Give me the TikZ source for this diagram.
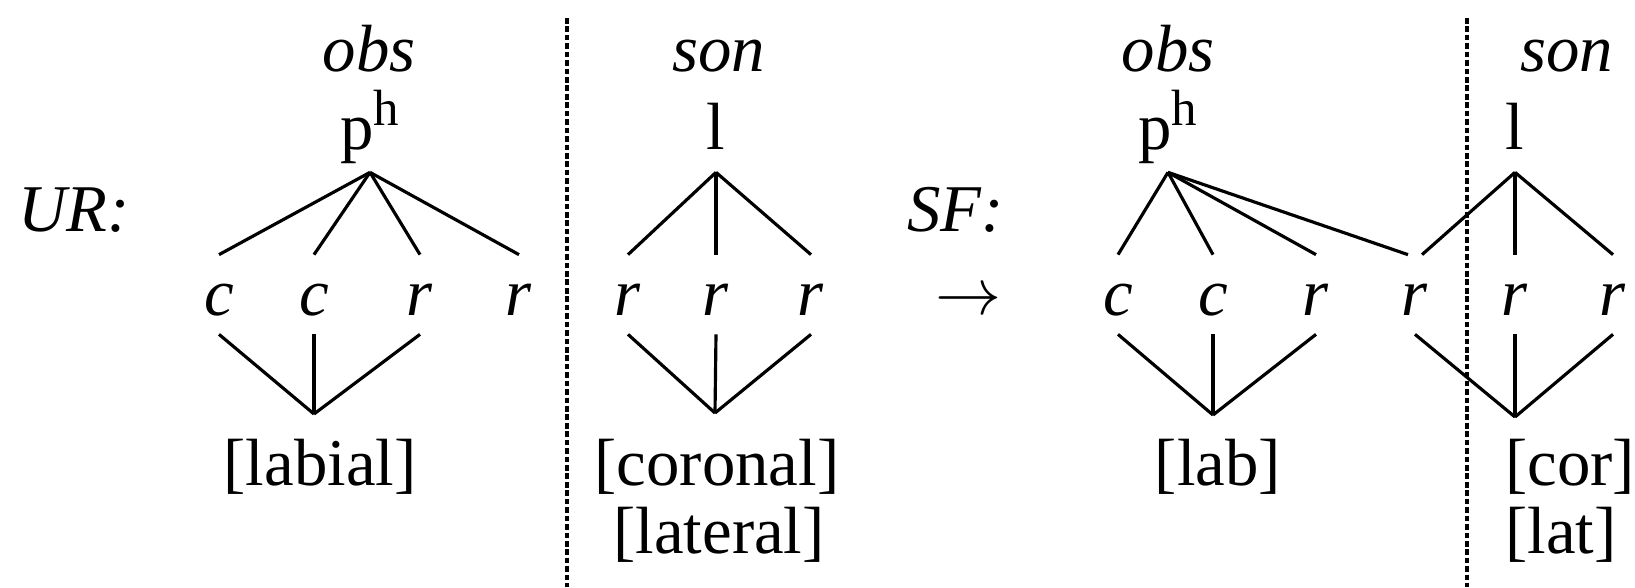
\documentclass[tikz,border=0pt]{standalone}
\usepackage{fontspec}
\setmainfont{Liberation Serif}

\begin{document}
\begin{tikzpicture}[
  lbl/.style={inner sep=0pt,anchor=base,font=\fontsize{38}{44}\selectfont},
  seg/.style={lbl,text height=1.2cm,text depth=0.38cm},
  root/.style={lbl,text depth=0.44cm},
  assoc/.style={line width=1.8pt},
  divider/.style={line width=1.8pt,dash pattern=on 3.2pt off 1.6pt}]
  \useasboundingbox (0,0) rectangle (32.7,11.74);
  % UR
  \node[lbl,anchor=base west](ur) at (0.36,7.12){\textit{UR:}};
  \node[lbl](obs1) at (7.38,10.30){\textit{obs}};
  \node[root](ph1) at (7.40,8.74){p\raisebox{0.36em}{\fontsize{29}{30}\selectfont h}};
  \node[seg](c1) at (4.38,5.44){\textit{c}};
  \node[seg](c2) at (6.28,5.44){\textit{c}};
  \node[seg](r1) at (8.40,5.44){\textit{r}};
  \node[seg](r2) at (10.38,5.44){\textit{r}};
  \coordinate (labj1) at (6.28,3.46);
  \node[lbl](lab1) at (6.40,2.04){[labial]};
  \foreach \s in {c1,c2,r1,r2} \draw[assoc] (ph1.south)--(\s.north);
  \foreach \s in {c1,c2,r1} \draw[assoc] (\s.south)--(labj1);
  \draw[divider] (11.34,11.38)--(11.34,0);
  \node[lbl](son1) at (14.38,10.30){\textit{son}};
  \node[root](l1) at (14.32,8.74){l};
  \node[seg](r3) at (12.56,5.44){\textit{r}};
  \node[seg](r4) at (14.32,5.44){\textit{r}};
  \node[seg](r5) at (16.22,5.44){\textit{r}};
  \coordinate (corj1) at (14.30,3.48);
  \node[lbl](cor1) at (14.34,2.04){[coronal]};
  \node[lbl](lat1) at (14.38,0.68){[lateral]};
  \foreach \s in {r3,r4,r5} \draw[assoc] (l1.south)--(\s.north);
  \foreach \s in {r3,r4,r5} \draw[assoc] (\s.south)--(corj1);
  % SF
  \node[lbl,anchor=base west](sf) at (18.14,7.12){\textit{SF:}};
  \node[lbl](arr) at (19.36,5.44){\resizebox{1.32cm}{!}{$\rightarrow$}};
  \node[lbl](obs2) at (23.36,10.30){\textit{obs}};
  \node[root](ph2) at (23.36,8.74){p\raisebox{0.36em}{\fontsize{29}{30}\selectfont h}};
  \node[seg](c3) at (22.36,5.44){\textit{c}};
  \node[seg](c4) at (24.26,5.44){\textit{c}};
  \node[seg](r6) at (26.32,5.44){\textit{r}};
  \node[seg](r7) at (28.30,5.44){\textit{r}};
  \node[seg](r8) at (30.30,5.44){\textit{r}};
  \node[seg](r9) at (32.26,5.44){\textit{r}};
  \coordinate (labj2) at (24.26,3.44);
  \node[lbl](lab2) at (24.36,2.04){[lab]};
  \foreach \s in {c3,c4,r6} \draw[assoc] (ph2.south)--(\s.north);
  \draw[assoc] (ph2.south)--([xshift=-4pt]r7.north);
  \foreach \s in {c3,c4,r6} \draw[assoc] (\s.south)--(labj2);
  \draw[divider] (29.34,11.38)--(29.34,0);
  \node[lbl](son2) at (31.34,10.30){\textit{son}};
  \node[root](l2) at (30.30,8.74){l};
  \coordinate (corj2) at (30.30,3.40);
  \node[lbl,anchor=base west](cor2) at (30.10,2.04){[cor]};
  \node[lbl,anchor=base west](lat2) at (30.10,0.68){[lat]};
  \draw[assoc] (l2.south)--([xshift=4pt]r7.north);
  \foreach \s in {r8,r9} \draw[assoc] (l2.south)--(\s.north);
  \foreach \s in {r7,r8,r9} \draw[assoc] (\s.south)--(corj2);
\end{tikzpicture}
\end{document}
